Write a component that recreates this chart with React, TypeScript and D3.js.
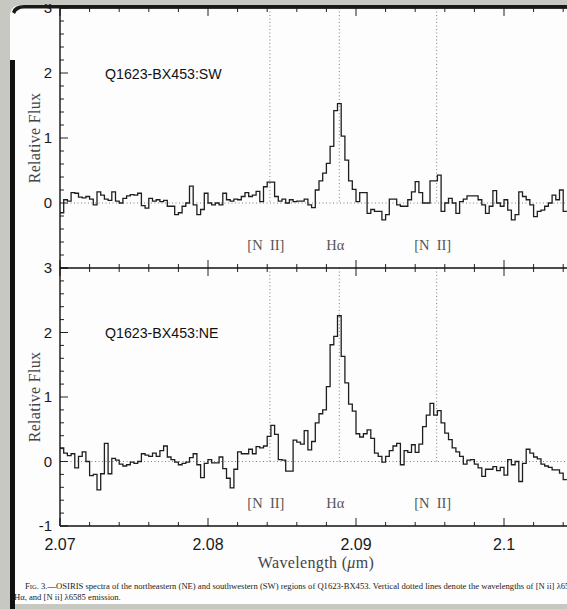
import React, { useEffect, useRef } from "react";
import * as d3 from "d3";

const W = 567;
const H = 609;

// spectral grid (OSIRIS Kn2 sampling)
const START_WL = 2.07;
const BIN_WL = 0.00025;

// relative flux per spectral bin
const SW_FLUX = [
  -0.15, 0.05, 0.03, 0.16, 0.15, 0.09, 0.08, 0.1, 0.06, -0.03,
  0.17, 0.12, 0.06, 0.04, 0.17, 0.03, 0.0, 0.07, 0.11, 0.13,
  0.12, 0.15, -0.04, -0.08, 0.07, 0.03, 0.05, 0.02, 0.04, -0.05,
  -0.05, -0.18, -0.15, -0.05, 0.0, 0.26, -0.03, -0.18, -0.1, 0.15,
  0.0, -0.03, 0.0, -0.03, 0.15, 0.05, 0.03, 0.06, 0.05, 0.1,
  0.16, 0.1, 0.12, 0.18, 0.02, 0.25, 0.32, 0.32, 0.1, 0.03,
  0.06, 0.0, 0.05, 0.02, 0.03, 0.03, 0.06, -0.03, -0.07, 0.2,
  0.34, 0.46, 0.61, 0.87, 1.42, 1.53, 1.03, 0.66, 0.34, 0.21,
  0.02, 0.16, 0.16, -0.16, -0.1, -0.13, -0.13, -0.26, -0.18, 0.06,
  0.06, -0.03, -0.05, -0.05, 0.05, 0.17, 0.33, 0.16, 0.0, 0.0,
  0.34, 0.34, 0.43, -0.13, 0.0, 0.07, 0.0, -0.16, 0.02, 0.06,
  0.11, 0.11, 0.11, 0.05, -0.03, -0.16, -0.05, 0.19, 0.0, -0.05,
  0.05, -0.11, -0.26, -0.18, 0.17, 0.1, 0.05, -0.03, -0.21, -0.13,
  -0.11, -0.05, 0.0, 0.12, 0.05, 0.2, -0.13
];

const NE_FLUX = [
  0.21, 0.13, 0.09, 0.12, -0.1, 0.08, 0.15, 0.0, -0.22, -0.2,
  -0.44, -0.19, 0.28, -0.19, 0.05, 0.02, -0.04, -0.07, -0.05, -0.01,
  -0.03, 0.0, 0.12, 0.1, 0.08, 0.13, 0.08, 0.17, 0.24, 0.07,
  0.03, -0.01, -0.05, -0.03, -0.01, 0.06, 0.12, -0.05, -0.25, -0.03,
  0.03, -0.02, -0.02, 0.07, -0.11, -0.26, -0.41, -0.12, 0.15, 0.12,
  0.12, 0.19, 0.12, 0.23, 0.21, 0.24, 0.39, 0.56, 0.42, 0.03,
  0.02, -0.15, -0.15, 0.33, 0.3, 0.27, 0.48, 0.18, 0.31, 0.6,
  0.74, 0.8, 1.16, 1.81, 1.94, 2.26, 1.63, 1.22, 0.89, 0.78,
  0.43, 0.38, 0.43, 0.49, 0.36, 0.13, 0.08, -0.01, 0.08, 0.17,
  0.24, 0.28, -0.05, 0.17, 0.14, 0.26, 0.14, 0.27, 0.54, 0.72,
  0.9, 0.72, 0.79, 0.6, 0.44, 0.34, 0.21, 0.15, 0.08, -0.04,
  0.02, 0.03, -0.04, -0.1, -0.23, -0.12, -0.12, -0.08, -0.14, -0.09,
  -0.21, 0.03, -0.05, 0.0, -0.31, -0.03, 0.19, 0.13, 0.07, 0.04,
  -0.04, -0.07, -0.09, -0.13, -0.13, -0.18, -0.28
];

const LINE_NAMES = ["[N  II]", "H\u03b1", "[N  II]"];
const LINE_WL = [2.08418, 2.08887, 2.09545];

const X_TICKS = [2.07, 2.08, 2.09, 2.1];
const X_TICK_LABELS = ["2.07", "2.08", "2.09", "2.1"];

const PANEL_TITLES = ["Q1623-BX453:SW", "Q1623-BX453:NE"];
const PANEL_FLUX = [SW_FLUX, NE_FLUX];
const PANEL_Y_LABELS = [[0, 1, 2, 3], [-1, 0, 1, 2, 3]];

const CAPTION_1 = "3.\u2014OSIRIS spectra of the northeastern (NE) and southwestern (SW) regions of Q1623-BX453. Vertical dotted lines denote the wavelengths of [N ii] \u03bb6549,";
const CAPTION_2 = "H\u03b1, and [N ii] \u03bb6585 emission.";

const SANS = "'Liberation Sans', Arial, Helvetica, sans-serif";
const SERIF = "'Liberation Serif', 'Times New Roman', serif";

export default function App() {
  const ref = useRef<SVGSVGElement | null>(null);

  useEffect(() => {
    const svg = d3.select(ref.current);
    svg.selectAll("*").remove();

    const left = 60;
    const x = d3.scaleLinear().domain([2.07, 2.105]).range([left, 578]);
    const panelRanges: [number, number][] = [[268, 8], [526, 268]];

    // scanned page background
    svg.append("rect").attr("width", W).attr("height", H).attr("fill", "#c8c8c2");
    svg.append("path").attr("d", "M10,16 Q10,5 22,5 L567,5 L567,604 L10,604 Z").attr("fill", "#fdfdfd");

    const g = svg.append("g");

    panelRanges.forEach((rng, p) => {
      const y = d3.scaleLinear().domain([-1, 3]).range(rng);
      const flux = PANEL_FLUX[p];

      // zero level
      g.append("line")
        .attr("x1", left).attr("x2", W)
        .attr("y1", y(0)).attr("y2", y(0))
        .attr("stroke", "#808080").attr("stroke-width", 1).attr("stroke-dasharray", "1,2.5");

      // line markers
      LINE_WL.forEach((wl, k) => {
        g.append("line")
          .attr("x1", x(wl)).attr("x2", x(wl))
          .attr("y1", y(3)).attr("y2", y(0))
          .attr("stroke", "#808080").attr("stroke-width", 1).attr("stroke-dasharray", "1,2.5");
        g.append("text")
          .attr("x", x(wl) - 4).attr("y", y(-0.72))
          .attr("text-anchor", "middle")
          .attr("font-family", SERIF).attr("font-size", 14.5)
          .attr("fill", "#555")
          .style("white-space", "pre")
          .text(LINE_NAMES[k]);
      });

      // spectrum as histogram
      const pts: [number, number][] = flux.map((v, i) => [START_WL + i * BIN_WL, v]);
      pts.push([START_WL + flux.length * BIN_WL, flux[flux.length - 1]]);
      const line = d3.line<[number, number]>()
        .x((d) => x(d[0]))
        .y((d) => y(d[1]))
        .curve(d3.curveStepAfter);
      g.append("path")
        .attr("d", line(pts) || "")
        .attr("fill", "none")
        .attr("stroke", "#1e1e1e")
        .attr("stroke-width", 1.3);

      // title
      g.append("text")
        .attr("x", left + 45).attr("y", y(1.91))
        .attr("font-family", SANS).attr("font-size", 14.2)
        .attr("fill", "#111")
        .text(PANEL_TITLES[p]);

      // y ticks
      d3.range(-1, 3.001, 0.2).forEach((v) => {
        const major = Math.abs(v - Math.round(v)) < 1e-6;
        g.append("line")
          .attr("x1", left).attr("x2", left + (major ? 8 : 4))
          .attr("y1", y(v)).attr("y2", y(v))
          .attr("stroke", "#222").attr("stroke-width", 1);
      });
      PANEL_Y_LABELS[p].forEach((v) => {
        g.append("text")
          .attr("x", 52).attr("y", y(v)).attr("dy", "0.36em")
          .attr("text-anchor", "end")
          .attr("font-family", SANS).attr("font-size", 15)
          .attr("fill", "#1a1a1a")
          .text(String(v));
      });

      // x ticks top and bottom of each panel
      d3.range(0, 18).map((i) => 2.07 + i * 0.002).forEach((wl) => {
        const major = X_TICKS.some((t) => Math.abs(t - wl) < 1e-6);
        const len = major ? 8 : 4;
        g.append("line")
          .attr("x1", x(wl)).attr("x2", x(wl))
          .attr("y1", rng[1]).attr("y2", rng[1] + len)
          .attr("stroke", "#222").attr("stroke-width", 1);
        g.append("line")
          .attr("x1", x(wl)).attr("x2", x(wl))
          .attr("y1", rng[0]).attr("y2", rng[0] - len)
          .attr("stroke", "#222").attr("stroke-width", 1);
      });

      // y axis title
      g.append("text")
        .attr("transform", `translate(40,${y(1)}) rotate(-90)`)
        .attr("text-anchor", "middle")
        .attr("font-family", SERIF).attr("font-size", 16)
        .attr("letter-spacing", 0.3)
        .attr("fill", "#444")
        .text("Relative Flux");
    });

    // frame
    g.append("line").attr("x1", left).attr("x2", left).attr("y1", 8).attr("y2", 526)
      .attr("stroke", "#111").attr("stroke-width", 1.4);
    [8, 268, 526].forEach((yy) => {
      g.append("line").attr("x1", left).attr("x2", W).attr("y1", yy).attr("y2", yy)
        .attr("stroke", "#111").attr("stroke-width", 1.4);
    });

    // x tick labels
    X_TICKS.forEach((t, i) => {
      g.append("text")
        .attr("x", x(t)).attr("y", 550)
        .attr("text-anchor", "middle")
        .attr("font-family", SANS).attr("font-size", 16)
        .attr("fill", "#1a1a1a")
        .text(X_TICK_LABELS[i]);
    });

    const xl = g.append("text")
      .attr("x", 316).attr("y", 568)
      .attr("text-anchor", "middle")
      .attr("font-family", SERIF).attr("font-size", 16)
      .attr("letter-spacing", 0.35)
      .attr("fill", "#444");
    xl.append("tspan").text("Wavelength (");
    xl.append("tspan").attr("font-style", "italic").text("\u03bc");
    xl.append("tspan").text("m)");

    // caption
    const c1 = g.append("text").attr("x", 25).attr("y", 589)
      .attr("font-family", SERIF).attr("font-size", 8.6).attr("fill", "#222");
    c1.append("tspan").text("F");
    c1.append("tspan").attr("font-size", 6.6).text("IG");
    c1.append("tspan").text(". " + CAPTION_1);
    g.append("text").attr("x", 14).attr("y", 600)
      .attr("font-family", SERIF).attr("font-size", 8.6).attr("fill", "#222")
      .text(CAPTION_2);

    // scan artefacts: top edge band and spine shadow
    svg.append("rect").attr("x", 0).attr("y", 0).attr("width", W).attr("height", 4).attr("fill", "#c8c8c2");
    svg.append("path").attr("d", "M12,12 Q14,5 24,5 L567,5 L567,8.5 L24,8.5 Q17,8.5 15,14 Z").attr("fill", "#1a1a1a");
    svg.append("rect").attr("x", 10).attr("y", 60).attr("width", 5).attr("height", H - 60).attr("fill", "#111");
  }, []);

  return (
    <svg
      ref={ref}
      width={W}
      height={H}
      style={{ position: "absolute", left: 0, top: 0, background: "#fff" }}
    />
  );
}
